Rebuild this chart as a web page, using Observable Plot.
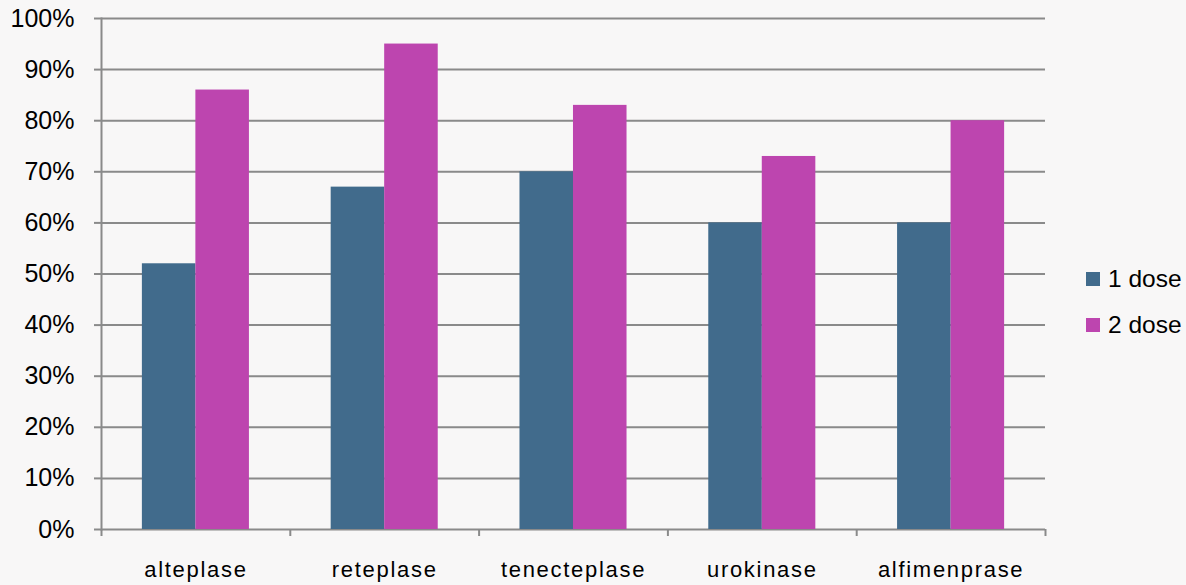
<!DOCTYPE html>
<html>
<head>
<meta charset="utf-8">
<script src="https://cdn.jsdelivr.net/npm/d3@7"></script>
<script src="https://cdn.jsdelivr.net/npm/@observablehq/plot@0.6"></script>
<style>
  html, body { margin: 0; padding: 0; background: #f8f7f7; }
  #wrap { position: relative; width: 1186px; height: 585px; font-family: "Liberation Sans", Arial, sans-serif; }
  #legend { position: absolute; left: 1086px; top: 256px; font-size: 24.5px; color: #000; }
  .item { display: flex; align-items: center; height: 46px; }
  .sw { width: 14px; height: 14px; margin-right: 8px; }
  .xlab text { letter-spacing: 1.7px; }
</style>
</head>
<body>
<div id="wrap"><div id="legend"></div></div>
<script>
const categories = ["alteplase", "reteplase", "tenecteplase", "urokinase", "alfimenprase"];
const series = ["1 dose", "2 dose"];
const dose1 = [52, 67, 70, 60, 60];
const dose2 = [86, 95, 83, 73, 80];
const yTicks = [0, 10, 20, 30, 40, 50, 60, 70, 80, 90, 100];
const colors = ["#416B8C", "#BD45AF"];

const rows1 = categories.map((c, i) => ({category: c, series: series[0], value: dose1[i]}));
const rows2 = categories.map((c, i) => ({category: c, series: series[1], value: dose2[i]}));

const W = 1186, H = 585, mL = 101, mR = 141;
const step = (W - mL - mR) / categories.length;
const gray = "#8a8a8a";

const chart = Plot.plot({
  width: W, height: H,
  marginLeft: mL, marginRight: mR, marginTop: 18, marginBottom: 56,
  style: {fontFamily: "Liberation Sans, Arial, sans-serif", fontSize: "24px", background: "transparent", color: "#000"},
  x: {domain: categories, paddingInner: 0.433, paddingOuter: 0.2165, round: false, label: null},
  y: {domain: [0, 100], label: null},
  marks: [
    Plot.ruleY(yTicks, {stroke: gray, strokeWidth: 2}),
    Plot.barY(rows1, {x: "category", y: "value", fill: colors[0], insetRight: 53.5}),
    Plot.barY(rows2, {x: "category", y: "value", fill: colors[1], insetLeft: 53.5}),
    Plot.frame({anchor: "left", stroke: gray, strokeWidth: 2}),
    Plot.axisY({ticks: yTicks, text: null, tickSize: 7, stroke: gray, strokeWidth: 2, label: null}),
    Plot.axisY({ticks: yTicks, tickFormat: d => d + "%", tickSize: 0, tickPadding: 27, fontSize: 25, label: null}),
    Plot.axisX({tickSize: 0, tickPadding: 32, fontSize: 22, label: null, className: "xlab"}),
    Plot.axisX({ticks: categories, text: null, tickSize: 7, dx: -step / 2, stroke: gray, strokeWidth: 2, label: null}),
    Plot.axisX({ticks: [categories[categories.length - 1]], text: null, tickSize: 7, dx: step / 2, stroke: gray, strokeWidth: 2, label: null})
  ]
});
document.getElementById("wrap").prepend(chart);

const legend = document.getElementById("legend");
series.forEach((s, i) => {
  const it = document.createElement("div");
  it.className = "item";
  it.innerHTML = `<div class="sw" style="background:${colors[i]}"></div><span>${s}</span>`;
  legend.appendChild(it);
});
</script>
</body>
</html>
